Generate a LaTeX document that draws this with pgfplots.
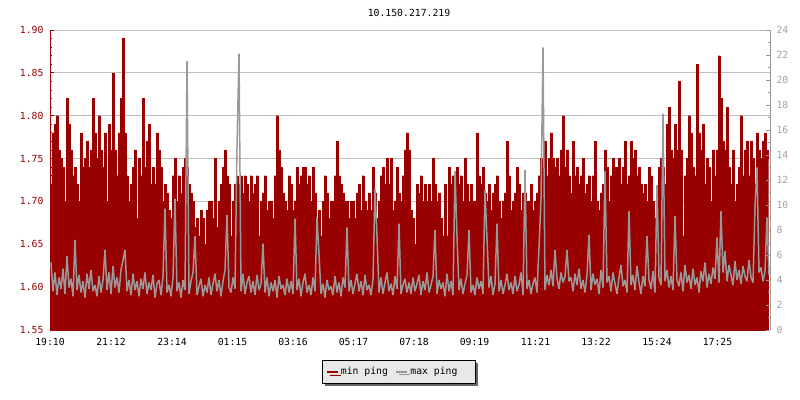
\documentclass[border=0pt]{standalone}
\usepackage{fontspec}
\setmainfont{DejaVu Sans Mono}
\setmonofont{DejaVu Sans Mono}
\usepackage{pgfplots}
\usepackage{pgfplotstable}
\pgfplotsset{compat=1.18}
\usetikzlibrary{shadows}

\definecolor{minred}{RGB}{153,0,0}
\definecolor{maxgray}{RGB}{153,153,153}
\definecolor{gridgray}{RGB}{190,190,190}
\definecolor{rlabel}{RGB}{160,160,160}
\definecolor{legfill}{RGB}{232,232,232}

% one row every 4 minutes from 19:10; min ping (s), max ping (right axis)
\pgfplotstableread{
min max
1.72 5.4
1.78 3.1
1.79 4.6
1.80 2.8
1.76 4.2
1.75 3.3
1.74 4.9
1.70 2.9
1.82 5.9
1.79 3.4
1.76 4.1
1.73 2.7
1.74 7.2
1.72 3.2
1.70 4.4
1.78 3.0
1.74 3.9
1.75 2.6
1.77 4.5
1.74 3.3
1.76 4.8
1.82 3.1
1.78 3.6
1.75 2.7
1.80 4.3
1.76 3.0
1.74 4.0
1.78 6.4
1.70 3.2
1.79 4.6
1.76 2.9
1.85 5.1
1.76 3.4
1.73 4.2
1.78 3.0
1.82 4.8
1.89 5.6
1.78 6.4
1.73 3.1
1.70 4.0
1.72 2.8
1.74 4.5
1.76 3.2
1.68 3.9
1.75 2.7
1.73 4.1
1.82 3.3
1.74 4.6
1.77 2.9
1.79 3.8
1.72 3.2
1.74 4.4
1.72 2.6
1.78 3.7
1.76 4.0
1.74 2.8
1.70 4.3
1.72 9.7
1.71 3.0
1.69 3.6
1.68 2.7
1.73 4.2
1.75 10.5
1.70 3.1
1.73 3.8
1.71 2.6
1.74 4.0
1.75 3.2
1.74 21.5
1.72 2.9
1.71 3.9
1.70 4.6
1.67 7.5
1.68 2.8
1.66 3.5
1.69 4.1
1.68 2.7
1.65 3.6
1.69 3.0
1.70 4.2
1.70 2.8
1.68 3.7
1.75 4.5
1.67 3.1
1.70 4.0
1.72 2.7
1.74 3.9
1.76 4.8
1.73 9.2
1.72 3.4
1.66 3.0
1.70 4.2
1.72 3.3
1.73 14.7
1.72 22.1
1.73 3.1
1.71 4.5
1.73 2.9
1.72 3.8
1.70 4.3
1.73 3.0
1.71 3.9
1.72 2.8
1.73 4.4
1.66 3.2
1.70 3.7
1.71 6.9
1.73 3.0
1.69 4.2
1.70 2.7
1.70 3.8
1.68 3.1
1.73 4.0
1.80 2.6
1.76 4.3
1.74 3.3
1.71 3.6
1.70 2.8
1.69 4.1
1.73 3.0
1.72 3.9
1.69 2.9
1.70 8.9
1.74 3.2
1.72 4.1
1.73 2.7
1.74 3.8
1.74 4.5
1.72 3.0
1.73 3.6
1.70 2.8
1.74 4.2
1.71 3.1
1.67 9.0
1.69 6.1
1.66 2.9
1.70 3.7
1.73 2.6
1.71 4.0
1.68 3.2
1.70 3.5
1.70 2.8
1.73 4.3
1.77 3.0
1.73 3.8
1.72 2.7
1.71 4.2
1.70 3.4
1.70 8.2
1.68 3.1
1.70 4.0
1.70 2.9
1.68 3.7
1.71 4.5
1.72 3.1
1.69 3.9
1.73 2.8
1.70 4.4
1.69 3.2
1.71 3.6
1.69 2.8
1.74 4.1
1.71 11.3
1.68 7.5
1.70 3.0
1.73 4.2
1.74 2.9
1.72 3.8
1.75 4.6
1.72 3.1
1.75 3.7
1.69 2.8
1.70 4.3
1.74 3.3
1.71 8.5
1.70 2.9
1.73 3.6
1.76 4.1
1.78 3.0
1.76 3.8
1.69 2.9
1.68 4.2
1.65 3.1
1.72 3.7
1.71 4.4
1.73 2.8
1.70 3.9
1.72 3.2
1.70 4.6
1.72 3.0
1.70 3.6
1.75 4.3
1.72 8.0
1.70 2.9
1.71 4.0
1.68 3.3
1.66 3.8
1.72 2.7
1.66 4.5
1.74 3.1
1.72 3.9
1.73 2.8
1.70 12.7
1.74 7.5
1.72 3.2
1.73 4.1
1.70 2.9
1.75 3.7
1.72 4.4
1.70 8.0
1.72 3.0
1.70 3.6
1.70 2.8
1.78 4.2
1.73 3.3
1.72 3.9
1.74 2.9
1.71 11.2
1.70 7.3
1.72 3.4
1.69 4.3
1.71 2.8
1.72 3.7
1.73 8.5
1.70 3.1
1.68 4.0
1.70 2.9
1.71 3.6
1.77 4.5
1.73 3.2
1.69 3.8
1.70 2.9
1.71 4.3
1.74 3.1
1.72 3.6
1.69 4.6
1.71 2.8
1.71 12.8
1.70 3.3
1.70 4.0
1.72 2.9
1.69 3.7
1.70 4.2
1.71 3.0
1.73 6.6
1.75 10.5
1.74 22.6
1.77 3.2
1.73 4.4
1.75 3.6
1.78 4.8
1.75 3.5
1.74 6.4
1.75 4.1
1.73 3.3
1.76 4.6
1.80 3.8
1.74 4.3
1.76 6.4
1.73 3.9
1.71 4.2
1.77 3.1
1.73 4.5
1.74 3.6
1.72 4.9
1.73 3.3
1.75 4.0
1.71 3.0
1.72 4.4
1.73 7.6
1.70 3.2
1.73 4.5
1.77 3.6
1.70 4.1
1.69 2.9
1.71 4.8
1.72 3.4
1.76 12.7
1.74 3.8
1.70 4.3
1.73 3.1
1.75 4.6
1.74 3.7
1.74 2.9
1.75 4.2
1.72 5.2
1.74 3.5
1.77 4.0
1.72 3.0
1.73 9.5
1.77 3.6
1.75 4.4
1.76 3.2
1.73 5.1
1.74 3.8
1.72 2.9
1.71 4.3
1.72 3.5
1.70 7.5
1.74 4.0
1.73 3.3
1.70 4.7
1.68 3.0
1.71 11.6
1.74 4.2
1.75 3.6
1.74 17.3
1.72 3.9
1.79 4.8
1.81 3.4
1.76 4.3
1.75 3.2
1.79 9.1
1.76 4.0
1.84 3.5
1.76 4.6
1.66 3.1
1.73 5.2
1.75 3.8
1.80 4.4
1.78 3.3
1.74 4.9
1.73 3.6
1.86 4.2
1.78 3.0
1.76 4.7
1.79 3.9
1.72 5.4
1.75 3.4
1.74 4.5
1.70 3.7
1.76 5.0
1.73 4.1
1.76 7.4
1.87 3.8
1.82 9.5
1.77 4.6
1.76 6.3
1.81 3.9
1.74 5.2
1.72 4.4
1.76 3.6
1.70 5.5
1.72 4.0
1.74 4.8
1.80 3.7
1.73 5.1
1.76 4.3
1.77 3.9
1.73 5.6
1.77 4.2
1.75 3.8
1.72 9.9
1.78 13.0
1.76 4.6
1.75 5.0
1.77 3.9
1.78 4.7
1.76 9.0
1.74 4.4
}\pingdata

\pgfplotsset{
  pingaxis/.style={
    scale only axis, width=720bp, height=300bp,
    at={(0,0)}, anchor=south west,
    xmin=0, xmax=1440,
    tick align=inside,
    major tick length=4bp, minor tick length=2.5bp,
    tick label style={font=\fontsize{9.8}{11}\selectfont},
    /pgf/number format/assume math mode=true,
  },
}

\begin{document}
\begin{tikzpicture}
\path[use as bounding box] (-50bp,-70bp) rectangle (750bp,330bp);

\begin{axis}[pingaxis,
  axis x line*=bottom, axis y line*=left,
  ymin=1.55, ymax=1.90,
  ytick={1.55,1.60,...,1.90}, minor y tick num=4,
  yticklabel style={minred, xshift=-3bp,
    /pgf/number format/.cd, fixed, fixed zerofill, precision=2},
  xticklabel style={yshift=-5bp},
  y axis line style={minred, line width=0.8bp},
  y tick style={minred, line width=0.8bp},
  x axis line style={black, line width=1bp},
  x tick style={black, line width=0.8bp},
  xtick={0,122,244,365,486,607,728,849,971,1092,1214,1335},
  xticklabels={19:10,21:12,23:14,01:15,03:16,05:17,07:18,09:19,11:21,13:22,15:24,17:25},
  minor x tick num=0,
  ymajorgrids, major grid style={gridgray, line width=0.8bp},
  legend columns=2,
  legend cell align=left,
  legend style={at={(0.3778,-0.1)}, anchor=north west,
    font=\fontsize{9.8}{11}\selectfont,
    draw=black, line width=0.8bp, fill=legfill,
    inner xsep=3bp, inner ysep=5bp,
    drop shadow={shadow xshift=3bp, shadow yshift=-3bp, fill=black!60, opacity=1},
    /tikz/every even column/.append style={column sep=5bp}},
  legend image code/.code={\draw[#1, line width=2.5bp] (0bp,0bp) -- (11bp,0bp);},
]
\addplot[const plot mark left, fill=minred, draw=minred, line width=0.3bp]
  table[x expr=\coordindex*4, y=min] {\pingdata} \closedcycle;
\addlegendentry{min ping}
\addlegendimage{maxgray}
\addlegendentry{max ping\hspace*{13bp}}
\end{axis}

\begin{axis}[pingaxis,
  axis x line=none, axis y line*=right,
  ymin=0, ymax=24,
  ytick={0,2,...,24}, minor y tick num=1,
  yticklabel style={rlabel, xshift=3bp},
  y axis line style={maxgray, line width=0.8bp},
  y tick style={maxgray, line width=0.8bp},
]
\addplot[sharp plot, maxgray, line width=1.5bp, line join=bevel]
  table[x expr=\coordindex*4+2, y=max] {\pingdata};
\end{axis}

\node[font=\fontsize{9.8}{11}\selectfont] at (359bp,317bp) {10.150.217.219};
\end{tikzpicture}
\end{document}
